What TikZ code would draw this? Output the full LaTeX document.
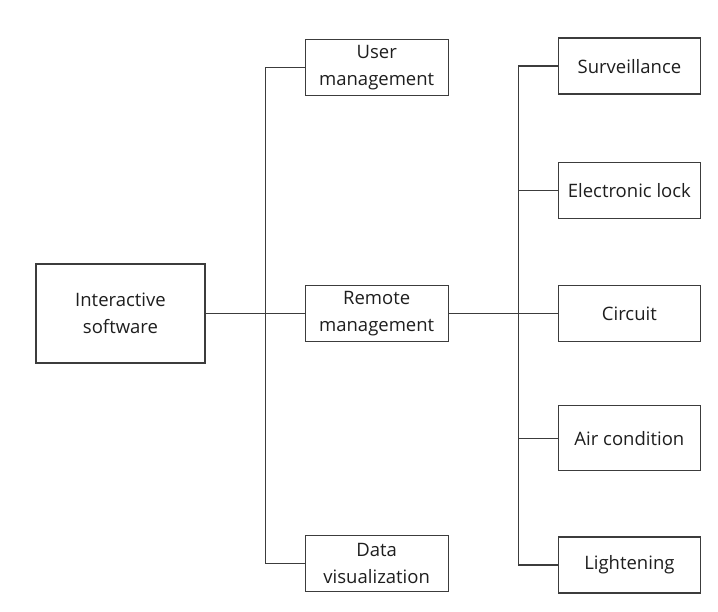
\documentclass[tikz,border=0pt]{standalone}
\usepackage{fontspec}
\setmainfont{Open Sans}
\usepackage{tikz}
\usetikzlibrary{positioning,calc}
\definecolor{bk80}{HTML}{3C3C3C}
\definecolor{bk90}{HTML}{1E1E1E}
\tikzset{
  modbox/.style={
    rectangle, draw=bk80, fill=white, line width=1.2pt,
    minimum width=#1, minimum height=56pt,
    font=\fontsize{18.5}{27}\selectfont, text=bk90, align=center,
    inner sep=2pt
  },
  modbox/.default=143pt,
  link/.style={draw=bk80, line width=1.3pt}
}

\begin{document}
\begin{tikzpicture}[x=1pt, y=1pt]
  \useasboundingbox (0,0) rectangle (718,-612);

  % root and first level
  \node[modbox=169pt, minimum height=99pt] (soft) at (120.5,-313.5) {Interactive\\software};
  \node[modbox, right=99pt of soft] (remote) {Remote\\management};
  \node[modbox, above=189pt of remote] (user) {User\\management};
  \node[modbox, below=193pt of remote] (data) {Data\\visualization};

  % second level under remote management
  \node[modbox=142pt, right=109pt of remote] (circ) {Circuit};
  \node[modbox=142pt, above=66pt of circ] (lock) {Electronic lock};
  \node[modbox=142pt, above=67pt of lock] (surv) {Surveillance};
  \node[modbox=142pt, minimum height=65pt, below=63pt of circ] (air) {Air condition};
  \node[modbox=142pt, below=65pt of air] (light) {Lightening};

  % bus lines
  \draw[link] (soft.east) -- (remote.west);
  \draw[link] (user.west) -- ++(-39,0) |- (data.west);

  \draw[link] (remote.east) -- (circ.west);
  \draw[link] (surv.west) -- ++(-39.5,0) |- (light.west);
  \draw[link] (lock.west) -- ++(-39.5,0);
  \draw[link] (air.west) -- ++(-39.5,0);
\end{tikzpicture}
\end{document}
